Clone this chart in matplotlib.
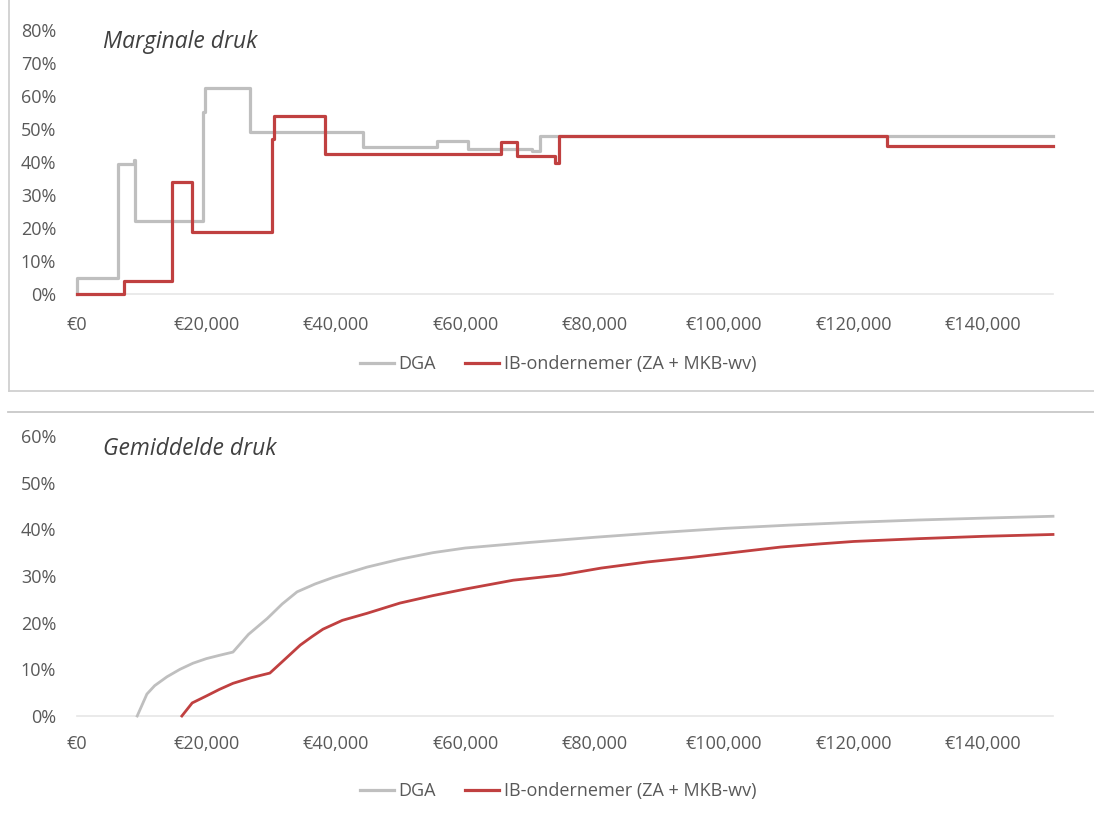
import matplotlib
matplotlib.use("Agg")
import matplotlib.pyplot as plt
from matplotlib.lines import Line2D
from matplotlib.ticker import FuncFormatter, MultipleLocator

plt.rcParams['font.family'] = ['Open Sans', 'DejaVu Sans']

# ---- data ----
series_names = ["DGA", "IB-ondernemer (ZA + MKB-wv)"]

# marginal rates (step functions, % per income breakpoint)
dga_marg_x = [0, 0, 6300, 8800, 9000, 19500, 19800, 26700, 44200, 55600, 60400, 70300, 71600, 150800]
dga_marg_y = [0, 5, 39.5, 40.5, 22, 55, 62.5, 49, 44.5, 46.5, 44, 43.3, 48, 48]

ib_marg_x = [0, 7200, 14700, 17800, 30200, 30500, 38300, 65500, 68000, 73900, 74500, 125200, 150800]
ib_marg_y = [0, 4, 34, 18.7, 47, 53.8, 42.4, 46, 41.8, 39.6, 48, 44.7, 44.7]

# average rates
dga_avg_x = [9300, 10800, 12000, 13900, 15900, 17900, 20000, 22000, 24100, 26500, 29400, 31700,
             34000, 36800, 39600, 44800, 49900, 55000, 60000, 70000, 80000, 90000, 100000,
             110000, 120000, 130000, 140000, 150800]
dga_avg_y = [0, 4.7, 6.5, 8.4, 10.0, 11.3, 12.3, 13.0, 13.7, 17.5, 20.9, 24.0, 26.6, 28.3, 29.7,
             31.9, 33.6, 35.0, 36.0, 37.2, 38.3, 39.3, 40.2, 40.9, 41.5, 42.0, 42.4, 42.8]

ib_avg_x = [16200, 17800, 20000, 22000, 24100, 26900, 29800, 32000, 34500, 36300, 38000, 41000,
            44800, 49900, 55000, 60000, 67400, 74700, 81000, 88100, 95000, 100000, 108700,
            115000, 120000, 130000, 140000, 150800]
ib_avg_y = [0, 2.8, 4.3, 5.7, 7.0, 8.2, 9.2, 12.0, 15.2, 17.0, 18.6, 20.5, 22.0, 24.2, 25.8,
            27.2, 29.1, 30.2, 31.7, 33.0, 34.0, 34.8, 36.2, 36.9, 37.4, 38.0, 38.5, 38.9]

x_ticks = [0, 20000, 40000, 60000, 80000, 100000, 120000, 140000]

GRAY = "#bfbfbf"
RED = "#c04040"
TXT = "#595959"

W, H = 1094, 814
fig = plt.figure(figsize=(W / 100, H / 100), dpi=100)

def fx(px):
    return px / W

def fy(py):
    return 1 - py / H

ax1 = fig.add_axes([fx(77), fy(294), fx(1053) - fx(77), fy(30) - fy(294)])
ax2 = fig.add_axes([fx(77), fy(716), fx(1053) - fx(77), fy(436) - fy(716)])

ax1.plot(dga_marg_x, dga_marg_y, drawstyle='steps-post', color=GRAY, lw=2.3, zorder=3)
ax1.plot(ib_marg_x, ib_marg_y, drawstyle='steps-post', color=RED, lw=2.3, zorder=4)
ax2.plot(dga_avg_x, dga_avg_y, color=GRAY, lw=2.0, zorder=3)
ax2.plot(ib_avg_x, ib_avg_y, color=RED, lw=2.0, zorder=4)

euro = FuncFormatter(lambda v, p: "€{:,.0f}".format(v))
pct = FuncFormatter(lambda v, p: "{:.0f}%".format(v))

for ax, ymax, title, xpad in [(ax1, 80, "Marginale druk", 16), (ax2, 60, "Gemiddelde druk", 14)]:
    ax.set_xlim(0, 150800)
    ax.set_ylim(0, ymax)
    ax.set_xticks(x_ticks)
    ax.xaxis.set_major_formatter(euro)
    ax.yaxis.set_major_locator(MultipleLocator(10))
    ax.yaxis.set_major_formatter(pct)
    for s in ax.spines.values():
        s.set_visible(False)
    ax.axhline(0, color="#e6e6e6", lw=1.2, zorder=1)
    ax.tick_params(length=0, labelsize=13, colors=TXT)
    ax.tick_params(axis='x', pad=xpad)
    ax.tick_params(axis='y', pad=15)
    for ln in ax.lines:
        ln.set_clip_on(False)
    ax.text(0.027, 0.955, title, transform=ax.transAxes,
            fontsize=16.5, style='italic', color="#404040", va='center', ha='left')

handles = [Line2D([], [], color=GRAY, lw=2.3), Line2D([], [], color=RED, lw=2.3)]
for ycen in (364, 791):
    fig.legend(handles, series_names, loc='center', bbox_to_anchor=(fx(558), fy(ycen)),
               ncol=2, frameon=False, fontsize=13, handlelength=1.9, handletextpad=0.25,
               columnspacing=1.6, labelcolor=TXT)

# frame lines of the original chart areas
fig.add_artist(Line2D([fx(9), fx(9)], [fy(0), fy(391)], color="#d0d0d0", lw=1.3))
fig.add_artist(Line2D([fx(9), 1], [fy(391), fy(391)], color="#d0d0d0", lw=1.3))
fig.add_artist(Line2D([fx(8), 1], [fy(412), fy(412)], color="#c8c8c8", lw=1.3))

fig.savefig("out.png", dpi=100, facecolor="white")
